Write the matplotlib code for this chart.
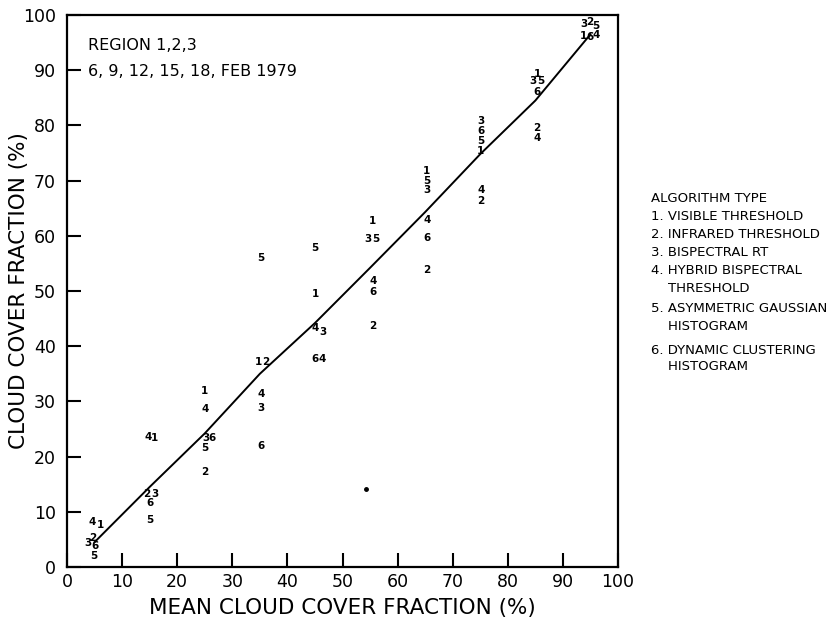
import matplotlib
matplotlib.use("Agg")
import matplotlib.pyplot as plt

# ---- data ----
mean_x = [5, 15, 25, 35, 45, 55, 65, 75, 85, 95]
mean_y = [4.5, 14.5, 24.2, 35.0, 44.2, 54.2, 64.3, 74.8, 84.5, 96.5]

# algorithm digit markers: label, x, y
pt_label = ['4', '1', '3', '2', '6', '5',
            '2', '3', '6', '5', '4', '1',
            '1', '4', '3', '6', '5', '2',
            '5', '1', '2', '4', '3', '6',
            '5', '1', '4', '3', '6', '4',
            '1', '3', '5', '4', '6', '2',
            '1', '5', '3', '4', '6', '2',
            '3', '6', '5', '1', '4', '2',
            '1', '3', '5', '6', '2', '4',
            '3', '2', '5', '1', '6', '4']
pt_x = [4.6, 6.0, 3.8, 4.7, 5.1, 4.9,
        14.5, 16.0, 15.0, 15.0, 14.8, 15.9,
        25.0, 25.0, 25.2, 26.3, 25.0, 25.0,
        35.2, 34.8, 36.0, 35.2, 35.2, 35.2,
        45.0, 45.0, 45.0, 46.4, 45.0, 46.3,
        55.5, 54.7, 56.1, 55.5, 55.5, 55.5,
        65.3, 65.3, 65.3, 65.3, 65.3, 65.3,
        75.1, 75.1, 75.1, 75.1, 75.1, 75.1,
        85.3, 84.6, 86.0, 85.3, 85.3, 85.3,
        93.8, 94.9, 95.9, 93.8, 94.9, 96.0]
pt_y = [8.1, 7.6, 4.3, 5.3, 3.8, 2.0,
        13.2, 13.2, 11.6, 8.5, 23.5, 23.3,
        31.9, 28.6, 23.3, 23.3, 21.6, 17.2,
        56.0, 37.1, 37.1, 31.3, 28.8, 22.0,
        57.8, 49.5, 43.3, 42.6, 37.7, 37.7,
        62.7, 59.4, 59.4, 51.8, 49.8, 43.7,
        71.7, 70.0, 68.3, 62.9, 59.6, 53.8,
        80.8, 79.0, 77.2, 75.4, 68.3, 66.3,
        89.4, 88.0, 88.0, 86.1, 79.5, 77.8,
        98.3, 98.7, 98.0, 96.2, 96.1, 96.3]
stray_x = [54.3]
stray_y = [14.1]

ticks = [0, 10, 20, 30, 40, 50, 60, 70, 80, 90, 100]

legend_title = "ALGORITHM TYPE"
legend_lines = ["1. VISIBLE THRESHOLD",
                "2. INFRARED THRESHOLD",
                "3. BISPECTRAL RT",
                "4. HYBRID BISPECTRAL",
                "    THRESHOLD",
                "5. ASYMMETRIC GAUSSIAN",
                "    HISTOGRAM",
                "6. DYNAMIC CLUSTERING",
                "    HISTOGRAM"]
legend_ypix = [217, 235, 253, 271, 289, 308, 326, 350, 367]

plt.rcParams['font.family'] = ['DejaVu Sans']

fig = plt.figure(figsize=(8.4, 6.3), dpi=100)
ax = fig.add_axes([67/840, 1 - 567/630, 551/840, 552/630])

ax.plot(mean_x, mean_y, color='black', lw=1.4)
for lab, x, y in zip(pt_label, pt_x, pt_y):
    ax.text(x, y, lab, ha='center', va='center', fontsize=7.5,
            fontweight='bold', color='black')
ax.plot(stray_x, stray_y, 'o', color='black', ms=2.5)

ax.set_xlim(0, 100)
ax.set_ylim(0, 100)
ax.set_xticks(ticks)
ax.set_yticks(ticks)
ax.tick_params(direction='in', length=10, width=1.5, labelsize=12.5)
ax.tick_params(axis='x', pad=4)
ax.tick_params(axis='y', pad=8)
for s in ax.spines.values():
    s.set_linewidth(1.6)

ax.set_xlabel("MEAN CLOUD COVER FRACTION (%)", fontsize=15.5, va='center')
ax.xaxis.set_label_coords(0.5, -(608 - 567) / 552)
ax.set_ylabel("CLOUD COVER FRACTION (%)", fontsize=15.5, va='center')
ax.yaxis.set_label_coords(-(67 - 19) / 551, 0.5)

ax.text(88/840, 1 - 45/630, "REGION 1,2,3", transform=fig.transFigure,
        fontsize=11.5, va='center', ha='left')
ax.text(88/840, 1 - 72/630, "6, 9, 12, 15, 18, FEB 1979", transform=fig.transFigure,
        fontsize=11.5, va='center', ha='left')

fig.text(651/840, 1 - 199/630, legend_title, fontsize=9.5, va='center', ha='left')
for line, yp in zip(legend_lines, legend_ypix):
    fig.text(651/840, 1 - yp/630, line, fontsize=9.5, va='center', ha='left')

fig.savefig("out.png", dpi=100)
